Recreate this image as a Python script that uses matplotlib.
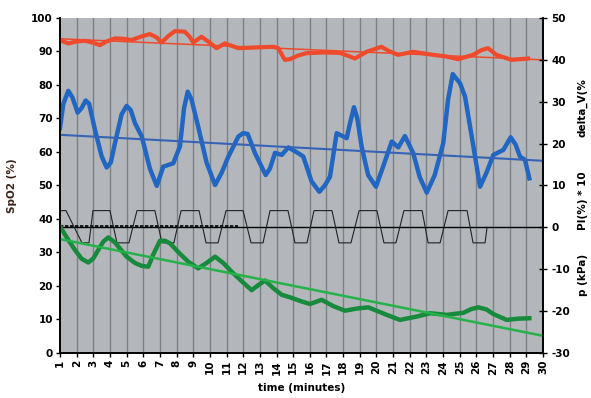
import matplotlib.pyplot as plt

# SpO2 (%) - left axis
spo2_t = [1.0, 1.5, 2.0, 2.5, 3.0, 3.4, 3.8, 4.3, 4.8, 5.3, 5.9, 6.4, 6.8, 7.1,
          7.5, 7.9, 8.5, 8.8, 9.0, 9.5, 10.0, 10.4, 10.9, 11.7, 12.7, 13.8, 14.1,
          14.5, 14.8, 15.3, 15.8, 16.8, 17.8, 18.3, 18.7, 19.4, 20.3, 20.8, 21.3,
          22.2, 23.4, 24.2, 24.9, 25.8, 26.3, 26.7, 27.2, 28.1, 29.1]
spo2_v = [93.4, 92.4, 93.0, 93.2, 92.6, 91.9, 93.0, 93.9, 93.8, 93.4, 94.5, 95.2,
          94.2, 92.7, 94.6, 96.1, 95.9, 94.3, 92.7, 94.4, 92.6, 91.0, 92.4, 91.0,
          91.2, 91.4, 91.0, 87.5, 87.7, 88.8, 89.5, 89.7, 89.6, 88.7, 87.9, 89.9,
          91.4, 90.0, 89.0, 89.9, 89.0, 88.5, 87.7, 89.0, 90.4, 91.0, 89.0, 87.5,
          87.9]
spo2_trend = [93.8, 87.5]

# delta_V (%) - right axis
dv_t = [1.0, 1.2, 1.5, 1.75, 2.06, 2.3, 2.54, 2.75, 3.1, 3.5, 3.8, 4.05, 4.3,
        4.7, 5.0, 5.25, 5.5, 5.91, 6.4, 6.81, 7.2, 7.8, 8.2, 8.45, 8.67, 8.9,
        9.3, 9.8, 10.31, 10.7, 11.11, 11.71, 12.0, 12.27, 12.71, 13.35, 13.6,
        13.91, 14.31, 14.71, 15.31, 15.61, 16.1, 16.57, 16.9, 17.21, 17.61,
        18.21, 18.45, 18.65, 18.85, 19.11, 19.5, 19.97, 20.4, 20.92, 21.31,
        21.71, 22.21, 22.6, 23.02, 23.5, 24.01, 24.3, 24.58, 25.02, 25.32,
        25.72, 26.22, 26.6, 27.02, 27.62, 28.06, 28.35, 28.62, 28.92, 29.18]
dv_v = [23.7, 29.5, 32.6, 31.0, 27.4, 28.5, 30.3, 29.5, 23.3, 17.0, 14.3, 15.5,
        20.1, 27.0, 29.0, 28.0, 24.9, 21.7, 14.0, 9.9, 14.5, 15.3, 19.3, 28.5,
        32.4, 30.5, 24.0, 15.5, 10.1, 13.0, 16.9, 21.7, 22.5, 22.3, 17.7, 12.5,
        14.0, 17.8, 17.3, 19.1, 17.7, 16.9, 11.0, 8.5, 10.0, 12.1, 22.5, 21.3,
        25.5, 28.7, 26.0, 19.3, 12.5, 9.7, 14.5, 20.5, 19.1, 21.8, 17.7, 12.0,
        8.3, 12.5, 20.1, 30.5, 36.6, 34.4, 31.2, 21.7, 9.7, 13.0, 17.3, 18.5,
        21.5, 19.8, 16.9, 16.1, 11.7]
dv_trend = [22.1, 15.9]

# PI(%) * 10 - right axis
pi_t = [1.0, 1.36, 2.32, 2.74, 2.98, 4.00, 4.42, 5.14, 5.62, 6.70, 7.12, 7.84,
        8.27, 9.35, 9.77, 10.49, 10.97, 11.99, 12.47, 13.19, 13.61, 14.69, 15.11,
        15.83, 16.25, 17.33, 17.75, 18.47, 18.96, 20.03, 20.45, 21.17, 21.65,
        22.74, 23.10, 23.82, 24.30, 25.44, 25.80, 26.52, 26.64]
pi_v = [4, 4, -3.7, -3.7, 4, 4, -3.7, -3.7, 4, 4, -3.7, -3.7, 4, 4, -3.7, -3.7,
        4, 4, -3.7, -3.7, 4, 4, -3.7, -3.7, 4, 4, -3.7, -3.7, 4, 4, -3.7, -3.7,
        4, 4, -3.7, -3.7, 4, 4, -3.7, -3.7, 0]
base_t = [1.0, 11.7]
base_v = [0.3, 0.3]

# p (kPa) - right axis
p_t = [1.0, 1.5, 1.9, 2.3, 2.7, 3.0, 3.3, 3.6, 3.9, 4.3, 5.0, 5.5, 5.91, 6.3,
       6.6, 7.0, 7.3, 7.6, 8.2, 8.7, 9.3, 9.8, 10.31, 10.8, 11.31, 12.0, 12.51,
       12.9, 13.31, 13.8, 14.31, 14.81, 15.51, 16.01, 16.71, 17.4, 18.11, 18.8,
       19.51, 20.62, 21.41, 22.42, 23.22, 24.22, 25.22, 25.7, 26.12, 26.6,
       27.02, 27.82, 28.5, 29.18]
p_v = [0.2, -3.0, -5.4, -7.5, -8.4, -7.4, -5.4, -3.4, -2.4, -3.6, -7.0, -8.5,
       -9.2, -9.4, -6.5, -3.2, -3.2, -3.8, -6.3, -8.2, -9.8, -8.5, -7.0, -8.5,
       -10.6, -13.2, -15.0, -13.8, -12.7, -14.5, -16.1, -16.7, -17.7, -18.3,
       -17.3, -18.8, -19.9, -19.4, -19.1, -20.9, -22.1, -21.3, -20.5, -20.9,
       -20.4, -19.5, -19.1, -19.6, -20.7, -22.1, -21.8, -21.7]
p_trend = [-2.8, -25.9]

minutes = list(range(1, 31))
trend_t = [1, 30]

fig = plt.figure(figsize=(5.91, 3.98), dpi=100)
ax = fig.add_axes([0.1015, 0.1131, 0.8173, 0.8417])
ax2 = ax.twinx()

ax.set_facecolor('#b3b7bb')
for m in minutes[1:-1]:
    ax.axvline(m, color='#7e8184', lw=1.0, zorder=1)

red = '#f04a2c'
blue = '#2166c0'
dgreen = '#188a3c'
lgreen = '#25b24b'

ax.plot(spo2_t, spo2_v, color=red, lw=3.0, zorder=3, solid_joinstyle='round')
ax.plot(trend_t, spo2_trend, color=red, lw=1.1, zorder=4)

ax2.axhline(0, color='black', lw=1.0)
ax2.plot(base_t, base_v, color='black', lw=1.2, ls=(0, (2, 1)))
ax2.plot(pi_t, pi_v, color='#222222', lw=0.8)
ax2.plot(dv_t, dv_v, color=blue, lw=3.2, solid_joinstyle='round')
ax2.plot(trend_t, dv_trend, color='#3563b8', lw=1.5)
ax2.plot(p_t, p_v, color=dgreen, lw=3.2, solid_joinstyle='round')
ax2.plot(trend_t, p_trend, color=lgreen, lw=1.8)

ax.set_xlim(1, 30)
ax.set_ylim(0, 100)
ax2.set_ylim(-30, 50)
ax.set_xticks(minutes)
ax.set_yticks(range(0, 101, 10))
ax2.set_yticks(range(-30, 51, 10))

tick_font = dict(fontsize=7.5, fontweight='bold')
ax.set_xticklabels([str(m) for m in minutes], rotation=90, **tick_font)
ax.set_yticklabels([str(v) for v in range(0, 101, 10)], **tick_font)
ax2.set_yticklabels([str(v) for v in range(-30, 51, 10)], **tick_font)

ax.tick_params(axis='both', length=3, width=1, pad=2)
ax2.tick_params(axis='y', direction='inout', length=6, width=1, pad=3)

for a in (ax, ax2):
    a.spines['top'].set_visible(False)
    for s in ('left', 'right', 'bottom'):
        a.spines[s].set_linewidth(1.2)

ax.set_xlabel('time (minutes)', fontsize=7.5, fontweight='bold', labelpad=6)
ax.set_ylabel('SpO2 (%)', fontsize=7.5, fontweight='bold', color='#3a2418', labelpad=10)

lab = dict(fontsize=7.5, fontweight='bold', rotation=90, ha='center', va='center')
fig.text(0.986, 0.73, 'delta_V(%', **lab)
fig.text(0.986, 0.495, 'PI(%) * 10', **lab)
fig.text(0.986, 0.31, 'p (kPa)', **lab)

fig.savefig('out.png', dpi=100)
